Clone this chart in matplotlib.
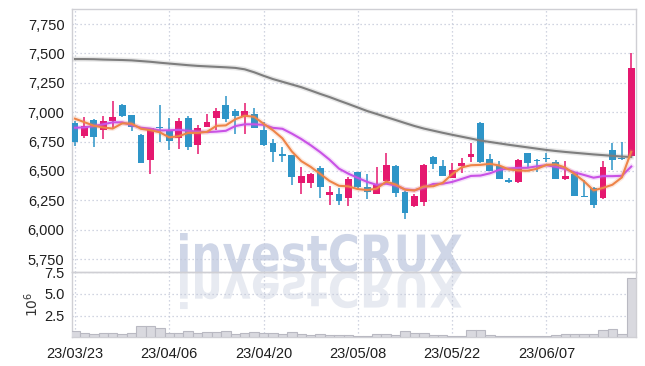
import matplotlib
matplotlib.use("Agg")
import matplotlib.pyplot as plt
import matplotlib.patheffects as pe
from matplotlib.textpath import TextPath
from matplotlib.patches import PathPatch
from matplotlib.font_manager import FontProperties
from matplotlib.transforms import Affine2D, IdentityTransform
from matplotlib.ticker import FuncFormatter

# ---------------- data ----------------
dates = ["23/03/23", "23/03/24", "23/03/27", "23/03/28", "23/03/29", "23/03/30", "23/03/31",
         "23/04/03", "23/04/04", "23/04/05", "23/04/06", "23/04/07", "23/04/10", "23/04/11",
         "23/04/12", "23/04/13", "23/04/14", "23/04/17", "23/04/18", "23/04/19", "23/04/20",
         "23/04/21", "23/04/24", "23/04/25", "23/04/26", "23/04/27", "23/04/28", "23/05/02",
         "23/05/03", "23/05/04", "23/05/08", "23/05/09", "23/05/10", "23/05/11", "23/05/12",
         "23/05/15", "23/05/16", "23/05/17", "23/05/18", "23/05/19", "23/05/22", "23/05/23",
         "23/05/24", "23/05/25", "23/05/26", "23/05/30", "23/05/31", "23/06/01", "23/06/02",
         "23/06/05", "23/06/07", "23/06/08", "23/06/09", "23/06/12", "23/06/13", "23/06/14",
         "23/06/15", "23/06/16", "23/06/19", "23/06/20"]

opens = [6906, 6800, 6934, 6851, 6924, 7061, 6976, 6806, 6591, 6875,
         6846, 6778, 6953, 6721, 6877, 6953, 7061, 7010, 6970, 6985,
         6851, 6736, 6645, 6636, 6395, 6400, 6528, 6299, 6307, 6267,
         6489, 6361, 6305, 6415, 6543, 6324, 6205, 6239, 6622, 6543,
         6443, 6545, 6622, 6911, 6600, 6543, 6423, 6409, 6650, 6594,
         6608, 6579, 6432, 6475, 6290, 6354, 6267, 6679, 6608, 6630]
highs = [6925, 6962, 6940, 6970, 7095, 7068, 6980, 6812, 6868, 7061,
         6948, 6948, 6970, 6891, 6985, 7038, 7140, 7027, 7076, 7033,
         6919, 6772, 6701, 6640, 6531, 6480, 6545, 6375, 6358, 6452,
         6495, 6472, 6531, 6650, 6551, 6330, 6302, 6557, 6628, 6594,
         6565, 6613, 6741, 6920, 6645, 6585, 6440, 6600, 6655, 6598,
         6656, 6594, 6585, 6480, 6423, 6367, 6585, 6736, 6750, 7500]
lows = [6715, 6778, 6702, 6772, 6860, 6960, 6840, 6565, 6472, 6750,
        6679, 6684, 6679, 6642, 6870, 6851, 6914, 6812, 6812, 6863,
        6715, 6579, 6579, 6381, 6304, 6353, 6273, 6211, 6211, 6202,
        6350, 6259, 6305, 6400, 6282, 6089, 6191, 6202, 6515, 6455,
        6438, 6486, 6579, 6570, 6500, 6432, 6400, 6400, 6537, 6495,
        6579, 6432, 6424, 6290, 6282, 6183, 6260, 6509, 6595, 6613]
closes = [6750, 6883, 6790, 6925, 6958, 6970, 6874, 6570, 6863, 6868,
          6755, 6925, 6707, 6863, 6914, 7013, 6942, 6970, 7010, 6868,
          6721, 6659, 6630, 6452, 6458, 6475, 6367, 6321, 6248, 6435,
          6360, 6324, 6381, 6551, 6310, 6140, 6287, 6551, 6560, 6458,
          6509, 6571, 6645, 6579, 6503, 6435, 6409, 6594, 6571, 6585,
          6600, 6432, 6458, 6290, 6282, 6211, 6537, 6594, 6600, 7378]

# volume in millions of shares
volumes = [0.73, 0.46, 0.35, 0.46, 0.46, 0.35, 0.46, 1.27, 1.27, 1.04,
           0.46, 0.46, 0.69, 0.46, 0.62, 0.62, 0.69, 0.35, 0.46, 0.58,
           0.46, 0.46, 0.35, 0.58, 0.35, 0.23, 0.35, 0.27, 0.23, 0.23,
           0.20, 0.15, 0.42, 0.42, 0.30, 0.69, 0.46, 0.46, 0.23, 0.23,
           0.15, 0.15, 0.81, 0.81, 0.23, 0.20, 0.12, 0.12, 0.12, 0.12,
           0.12, 0.23, 0.35, 0.35, 0.35, 0.35, 0.81, 0.92, 0.35, 6.80]

ma5 = [6945, 6915, 6885, 6870, 6861, 6905, 6903, 6859, 6847, 6829,
       6786, 6796, 6824, 6824, 6833, 6884, 6888, 6940, 6970, 6961,
       6902, 6846, 6778, 6666, 6584, 6535, 6476, 6415, 6374, 6369,
       6346, 6338, 6350, 6410, 6385, 6341, 6334, 6368, 6370, 6399,
       6473, 6530, 6549, 6552, 6561, 6547, 6514, 6504, 6502, 6519,
       6552, 6556, 6529, 6473, 6412, 6335, 6356, 6383, 6445, 6664]
ma10 = [6868, 6871, 6883, 6897, 6914, 6914, 6891, 6868, 6860, 6845,
        6846, 6850, 6842, 6835, 6831, 6835, 6842, 6882, 6897, 6897,
        6893, 6867, 6859, 6818, 6772, 6719, 6661, 6596, 6520, 6477,
        6441, 6407, 6382, 6392, 6377, 6344, 6336, 6359, 6390, 6392,
        6407, 6432, 6458, 6461, 6480, 6510, 6522, 6526, 6527, 6540,
        6549, 6535, 6517, 6488, 6466, 6443, 6456, 6456, 6459, 6538]
ma_long = [7452, 7452, 7451, 7448, 7446, 7444, 7441, 7435, 7429, 7421,
           7414, 7407, 7400, 7394, 7390, 7386, 7382, 7377, 7365, 7340,
           7310, 7282, 7259, 7236, 7213, 7185, 7156, 7129, 7099, 7070,
           7040, 7010, 6985, 6959, 6934, 6908, 6883, 6861, 6843, 6825,
           6808, 6792, 6776, 6759, 6747, 6735, 6723, 6712, 6701, 6690,
           6679, 6670, 6662, 6655, 6648, 6641, 6635, 6629, 6623, 6619]

tick_labels = ["23/03/23", "23/04/06", "23/04/20", "23/05/08", "23/05/22", "23/06/07"]
price_ticks = [5750, 6000, 6250, 6500, 6750, 7000, 7250, 7500, 7750]
vol_ticks = [2.5, 5.0, 7.5]

# ---------------- style ----------------
UP = "#E5186F"
DOWN = "#2E95C8"
GRID = "#C3C8D8"
SPINE = "#CFCFD4"
TXT = "#1E1E1E"
FONT = ["Liberation Sans", "DejaVu Sans"]
plt.rcParams["font.family"] = FONT

W, H = 645, 366
fig = plt.figure(figsize=(W / 100, H / 100), dpi=100)
fig.patch.set_facecolor("white")

left_px, right_px = 71.5, 635.5
top_px, mid_px, bot_px = 9, 271.5, 337.3
ax = fig.add_axes([left_px / W, 1 - mid_px / H, (right_px - left_px) / W, (mid_px - top_px) / H])
axv = fig.add_axes([left_px / W, 1 - bot_px / H, (right_px - left_px) / W, (bot_px - mid_px) / H],
                   sharex=ax)
for a in (ax, axv):
    a.set_facecolor("none")
    for s in a.spines.values():
        s.set_color(SPINE)
        s.set_linewidth(1.0)
    a.grid(True, color=GRID, linestyle=(0, (1, 2.2)), linewidth=0.9)
    a.set_axisbelow(True)
    a.tick_params(length=0, colors=TXT, labelsize=10.5)

# ---------------- watermark ----------------
fp = FontProperties(family="DejaVu Sans", weight="bold")
tp = TextPath((0, 0), "investCRUX", size=1, prop=fp)
ext = tp.get_extents()
x0, x1 = 180, 462
y_base = H - 272
y_top = H - 233
sx = (x1 - x0) / ext.width
sy = (y_top - y_base) / ext.y1
tr_top = Affine2D().translate(-ext.x0, 0).scale(sx, sy).translate(x0, y_base)
tr_ref = Affine2D().translate(-ext.x0, 0).scale(sx, -sy * 0.95).translate(x0, y_base)
wm = PathPatch(tr_top.transform_path(tp), facecolor="#CFD6E7", edgecolor="none",
               transform=IdentityTransform(), zorder=-5)
wm2 = PathPatch(tr_ref.transform_path(tp), facecolor="#E7EAF1", edgecolor="none",
                transform=IdentityTransform(), zorder=-5)
fig.add_artist(wm)
fig.add_artist(wm2)

# ---------------- candles ----------------
n = len(closes)
xs = list(range(n))
body_bottom = [min(o, c) for o, c in zip(opens, closes)]
body_h = [max(abs(c - o), 8) for o, c in zip(opens, closes)]
colors = [UP if c >= o else DOWN for o, c in zip(opens, closes)]

ax.vlines(xs, lows, highs, colors=colors, linewidth=1.1, zorder=3)
ax.bar(xs, body_h, bottom=body_bottom, width=0.72, color=colors, linewidth=0, zorder=4)


def halo(col):
    return [pe.Stroke(linewidth=3.6, foreground=col, alpha=0.18), pe.Normal()]


ax.plot(xs, ma_long, color="#7E7E7E", linewidth=1.5, zorder=5, path_effects=halo("#7E7E7E"))
ax.plot(xs, ma10, color="#C952E6", linewidth=1.5, zorder=5, path_effects=halo("#C952E6"))
ax.plot(xs, ma5, color="#EE8448", linewidth=1.5, zorder=6, path_effects=halo("#EE8448"))

ax.set_ylim(5645, 7878)
ax.set_yticks(price_ticks)
ax.yaxis.set_major_formatter(FuncFormatter(lambda v, p: f"{int(v):,}"))
ax.tick_params(axis="x", labelbottom=False)
ax.tick_params(axis="y", pad=5)

# ---------------- volume ----------------
vol_units = [v * 1e6 for v in volumes]
axv.bar(xs, vol_units, width=1.0, color="#D9D9DF", edgecolor="#B9B9C2", linewidth=0.8, zorder=3)
axv.set_ylim(0, 7.58e6)
axv.set_yticks([t * 1e6 for t in vol_ticks])
axv.set_yticklabels([f"{t:.1f}" for t in vol_ticks])
axv.tick_params(axis="y", pad=5)
axv.set_ylabel(r"$10^{6}$", color="#333333", fontsize=10, labelpad=2)

tick_pos = [dates.index(t) for t in tick_labels]
axv.set_xticks(tick_pos)
axv.set_xticklabels(tick_labels)
axv.tick_params(axis="x", pad=7)
axv.set_xlim(-0.37, n - 1 + 0.45)

fig.savefig("out.png", dpi=100, facecolor="white")
